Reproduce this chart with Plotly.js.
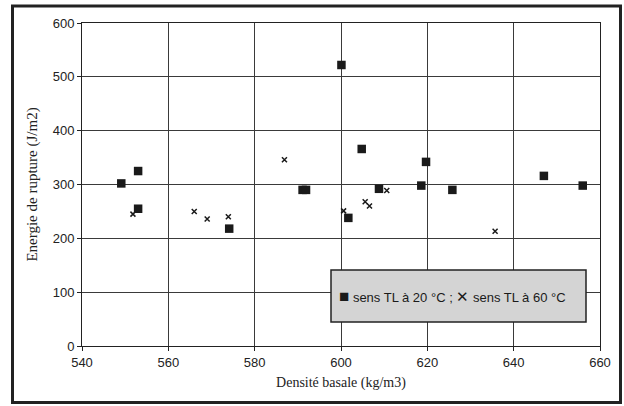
<!DOCTYPE html>
<html>
<head>
<meta charset="utf-8">
<script src="https://cdn.plot.ly/plotly-3.0.1.min.js"></script>
<style>html,body{margin:0;padding:0;background:#fff;}#chart{width:624px;height:406px;}</style>
</head>
<body>
<div id="chart"></div>
<script>
// Series 1: sens TL à 20 °C (squares)
const densite20 = [549.1, 553.0, 553.0, 574.1, 591.1, 591.9, 600.1, 601.7, 604.8, 608.8, 618.6, 619.7, 625.8, 647.0, 656.0];
const energie20 = [302, 325, 255, 218, 290, 290, 522, 238, 366, 292, 298, 342, 290, 316, 298];
// Series 2: sens TL à 60 °C (crosses)
const densite60 = [551.8, 566.0, 569.0, 573.9, 586.9, 600.6, 605.6, 606.6, 610.6, 635.7];
const energie60 = [245, 250, 236, 240, 346, 251, 268, 260, 289, 213];

const xTicks = [540, 560, 580, 600, 620, 640, 660];
const yTicks = [0, 100, 200, 300, 400, 500, 600];
const legendLabel20 = "sens TL à 20 °C ;";
const legendLabel60 = "sens TL à 60 °C";

const M = {l: 82, r: 24, t: 23, b: 60};
const W = 624 - M.l - M.r, H = 406 - M.t - M.b;
const px = v => (v - M.l) / W;
const py = v => (406 - M.b - v) / H;

const traces = [
  {x: densite20, y: energie20, type: 'scatter', mode: 'markers', name: 'sens TL à 20 °C',
   marker: {symbol: 'square', size: 8.5, color: '#1a1a1a'}, showlegend: false},
  {x: densite60, y: energie60, type: 'scatter', mode: 'markers', name: 'sens TL à 60 °C',
   marker: {symbol: 'x-thin-open', size: 5, line: {width: 1.5, color: '#1a1a1a'}, color: '#1a1a1a'}, showlegend: false}
];

const axisCommon = {
  showgrid: true, gridcolor: '#3a3a3a', gridwidth: 1,
  showline: true, linecolor: '#222', linewidth: 1, mirror: true,
  ticks: 'outside', ticklen: 4, tickcolor: '#222', zeroline: false,
  tickfont: {family: 'Liberation Sans, Arial, sans-serif', size: 13, color: '#222'}
};

const layout = {
  width: 624, height: 406,
  margin: M,
  paper_bgcolor: '#fff', plot_bgcolor: '#fff',
  xaxis: Object.assign({}, axisCommon, {
    range: [540, 660], tickvals: xTicks, ticktext: xTicks.map(String),
    title: {text: 'Densité basale (kg/m3)', standoff: 8,
            font: {family: 'Liberation Serif, Times New Roman, serif', size: 14, color: '#222'}}
  }),
  yaxis: Object.assign({}, axisCommon, {
    range: [0, 600], tickvals: yTicks, ticktext: yTicks.map(String),
    title: {text: 'Energie de rupture (J/m2)', standoff: 11,
            font: {family: 'Liberation Serif, Times New Roman, serif', size: 15, color: '#222'}}
  }),
  shapes: [
    {type: 'rect', xref: 'paper', yref: 'paper', x0: px(12.5), x1: px(620.5), y0: py(6), y1: py(402.5),
     line: {color: '#222', width: 3}, fillcolor: 'rgba(0,0,0,0)', layer: 'above'},
    {type: 'rect', xref: 'paper', yref: 'paper', x0: px(331), x1: px(586), y0: py(270), y1: py(322),
     line: {color: '#222', width: 1.5}, fillcolor: '#d4d4d4', layer: 'above'}
  ],
  annotations: [
    {xref: 'paper', yref: 'paper', x: px(337), y: py(296), xanchor: 'left', yanchor: 'middle',
     text: "<span style='font-size:17px'>■</span> " + legendLabel20 +
           " <span style='font-size:15px'>✕</span> " + legendLabel60,
     showarrow: false,
     font: {family: 'Liberation Sans, Arial, sans-serif', size: 13, color: '#1a1a1a'}}
  ]
};

Plotly.newPlot('chart', traces, layout, {displayModeBar: false, staticPlot: true});
</script>
</body>
</html>
